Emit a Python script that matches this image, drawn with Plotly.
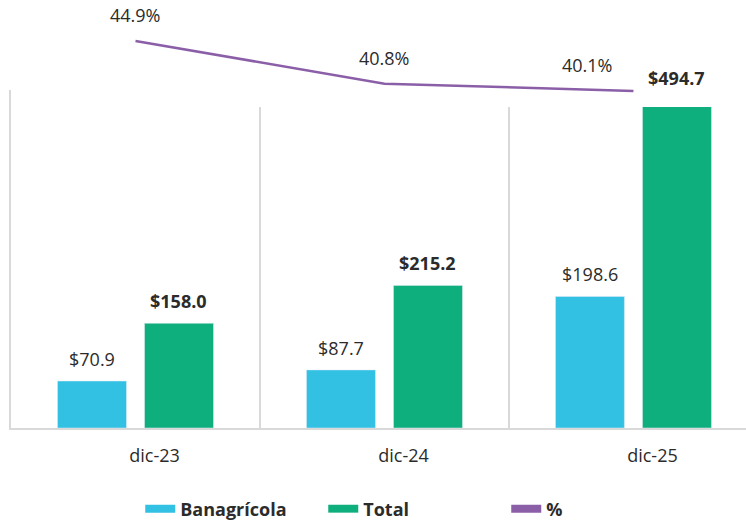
import plotly.graph_objects as go

categories = ["dic-23", "dic-24", "dic-25"]
banagricola = [70.9, 87.7, 198.6]
total = [158.0, 215.2, 494.7]
pct = [44.9, 40.8, 40.1]

C_BANA = "#33C1E3"
C_TOTAL = "#0EAF7D"
C_PCT = "#8B5FA8"
C_TEXT = "#2B2B2B"
C_GRID = "#D9D9D9"
FONT = "Open Sans"

xs = list(range(len(categories)))

fig = go.Figure()
fig.add_trace(go.Bar(x=xs, y=banagricola, marker_color=C_BANA, showlegend=False,
                     xaxis="x", yaxis="y"))
fig.add_trace(go.Bar(x=xs, y=total, marker_color=C_TOTAL, showlegend=False,
                     xaxis="x", yaxis="y"))
fig.add_trace(go.Scatter(x=xs, y=pct, mode="lines", line=dict(color=C_PCT, width=2.5),
                         showlegend=False, xaxis="x2", yaxis="y2"))

# legend entries (line swatches)
for name, col in [("Banagrícola", C_BANA), ("Total", C_TOTAL), ("%", C_PCT)]:
    fig.add_trace(go.Scatter(x=[None], y=[None], mode="lines", name=name,
                             line=dict(color=col, width=8), xaxis="x", yaxis="y"))

annotations = []
for i, v in enumerate(banagricola):
    annotations.append(dict(x=xs[i], y=v, xref="x", yref="y", text=f"${v:.1f}",
                            showarrow=False, xshift=-43.5, yshift=8, yanchor="bottom",
                            font=dict(size=18, color=C_TEXT, family=FONT)))
for i, v in enumerate(total):
    annotations.append(dict(x=xs[i], y=v, xref="x", yref="y", text=f"<b>${v:.1f}</b>",
                            showarrow=False, xshift=43.5, yshift=8, yanchor="bottom",
                            font=dict(size=18, color=C_TEXT, family=FONT)))
pct_dx = [0, 0, -46]
for i, v in enumerate(pct):
    annotations.append(dict(x=xs[i], y=v, xref="x2", yref="y2", text=f"{v:.1f}%",
                            showarrow=False, xshift=pct_dx[i], yshift=12, yanchor="bottom",
                            font=dict(size=18, color=C_TEXT, family=FONT)))

xrange = [-0.5, 2.452]
fig.update_layout(
    width=746, height=522,
    margin=dict(l=11, r=0, t=0, b=94),
    paper_bgcolor="white", plot_bgcolor="white",
    barmode="group", bargap=0.301, bargroupgap=0.207,
    font=dict(family=FONT, color=C_TEXT),
    xaxis=dict(domain=[0, 1], range=xrange, tickmode="array", tickvals=xs,
               ticktext=categories, showgrid=False, zeroline=False,
               showline=True, linecolor=C_GRID, linewidth=2,
               ticks="", ticklabelstandoff=10, ticklabelshift=19,
               tickfont=dict(size=18, color=C_TEXT, family=FONT),
               minor=dict(tick0=-0.5, dtick=1, showgrid=True, gridcolor=C_GRID,
                          gridwidth=2, ticks=""),
               anchor="y", fixedrange=True),
    yaxis=dict(domain=[0, 0.7897], range=[0, 510], showgrid=False, zeroline=False,
               showticklabels=False, showline=True, linecolor=C_GRID, linewidth=2,
               anchor="x"),
    xaxis2=dict(domain=[0, 1], range=xrange, visible=False, anchor="y2"),
    yaxis2=dict(domain=[0.75, 1], range=[38.56, 48.83], visible=False, anchor="x2"),
    legend=dict(orientation="h", xref="container", x=0.188, xanchor="left",
                yref="container", y=0.025, yanchor="middle", itemwidth=30,
                entrywidth=138,
                font=dict(size=18, color=C_TEXT, family=FONT, weight="bold")),
    annotations=annotations,
)

fig.write_html("out.html", config={"displayModeBar": False},
               post_script="document.body.style.margin='0px';")
